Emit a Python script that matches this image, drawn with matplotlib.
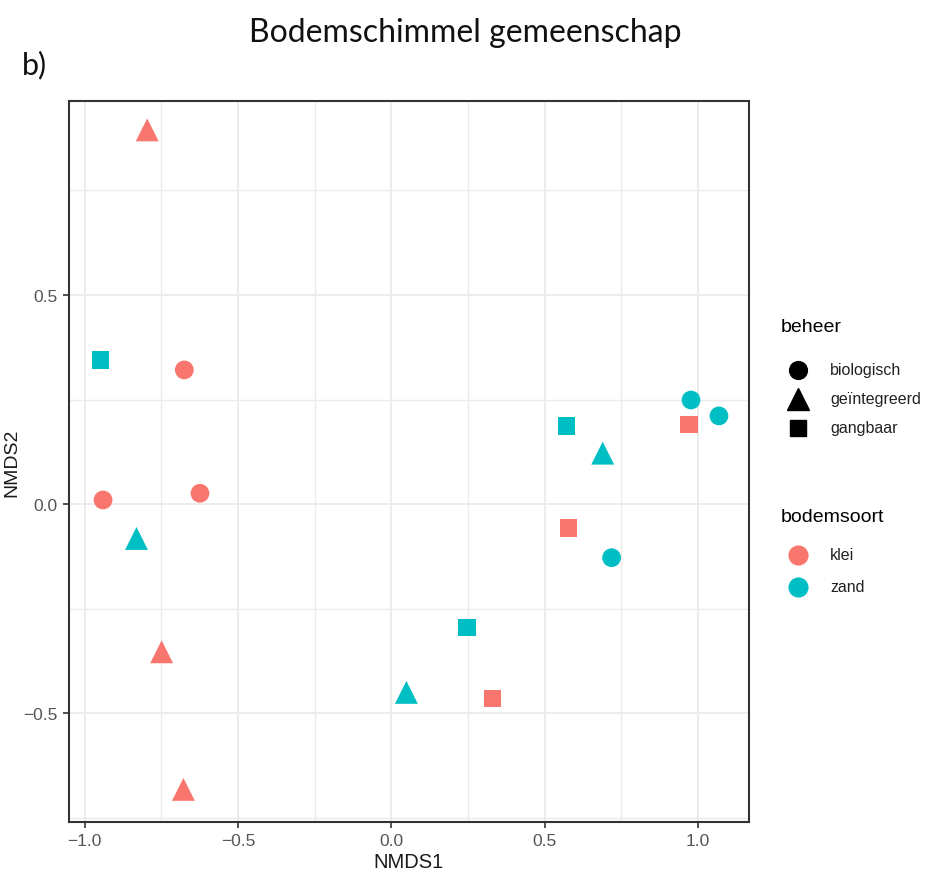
import matplotlib.pyplot as plt
from matplotlib.lines import Line2D
import numpy as np

# NMDS scores
nmds1 = [-0.796, -0.949, -0.675, -0.940, -0.624, -0.831, -0.749, -0.678, 0.049,
         0.247, 0.329, 0.577, 0.718, 0.572, 0.689, 0.970, 0.977, 1.068]
nmds2 = [0.895, 0.345, 0.321, 0.010, 0.026, -0.082, -0.353, -0.682, -0.450,
         -0.295, -0.464, -0.057, -0.128, 0.187, 0.122, 0.191, 0.249, 0.211]
beheer = ["geïntegreerd", "gangbaar", "biologisch", "biologisch", "biologisch", "geïntegreerd",
          "geïntegreerd", "geïntegreerd", "geïntegreerd", "gangbaar", "gangbaar", "gangbaar",
          "biologisch", "gangbaar", "geïntegreerd", "gangbaar", "biologisch", "biologisch"]
bodemsoort = ["klei", "zand", "klei", "klei", "klei", "zand", "klei", "klei", "zand",
              "zand", "klei", "klei", "zand", "zand", "zand", "klei", "zand", "zand"]

beheer_levels = ["biologisch", "geïntegreerd", "gangbaar"]
bodem_levels = ["klei", "zand"]
shapes = {"biologisch": "o", "geïntegreerd": "^", "gangbaar": "s"}
sizes = {"biologisch": 13.5, "geïntegreerd": 16.5, "gangbaar": 12.5}  # marker size in pt
colors = {"klei": "#F8766D", "zand": "#00BFC4"}

W, H = 929, 878
fig = plt.figure(figsize=(W / 100, H / 100), dpi=100)
plt.rcParams['font.family'] = ['Liberation Sans', 'DejaVu Sans']

ax = fig.add_axes([69 / W, 1 - 823 / H, (749 - 69) / W, (823 - 102) / H])

x = np.array(nmds1)
y = np.array(nmds2)
for b in beheer_levels:
    for s in bodem_levels:
        idx = [i for i in range(len(x)) if beheer[i] == b and bodemsoort[i] == s]
        if not idx:
            continue
        ax.scatter(x[idx], y[idx], marker=shapes[b], s=sizes[b] ** 2,
                   color=colors[s], edgecolors='none', zorder=3)

ax.set_xlim(-1.051, 1.166)
ax.set_ylim(-0.76, 0.964)
ax.set_xticks([-1.0, -0.5, 0.0, 0.5, 1.0])
ax.set_yticks([-0.5, 0.0, 0.5])
ax.set_xticks(np.arange(-1.0, 1.2, 0.25), minor=True)
ax.set_yticks(np.arange(-0.75, 1.0, 0.25), minor=True)
ax.grid(True, which='major', color='#EBEBEB', lw=1.3, zorder=0)
ax.grid(True, which='minor', color='#EBEBEB', lw=1.0, zorder=0)
ax.tick_params(which='minor', length=0)
ax.tick_params(which='major', length=4, width=1.2, color='#333333',
               labelsize=12.5, labelcolor='#555555', pad=4)
for sp in ax.spines.values():
    sp.set_color('#333333')
    sp.set_linewidth(1.5)
ax.set_axisbelow(True)
ax.set_xlabel("NMDS1", fontsize=14.5, labelpad=3, color='#1a1a1a')
ax.set_ylabel("NMDS2", fontsize=14, labelpad=2, color='#1a1a1a')

fig.text(465 / W, 1 - 33 / H, "Bodemschimmel gemeenschap", ha='center', va='center',
         fontsize=23, family=['Lato', 'DejaVu Sans'], color='#111111')
fig.text(22 / W, 1 - 65 / H, "b)", ha='left', va='center',
         fontsize=22, family=['Lato', 'DejaVu Sans'], color='#111111')


# legends, placed by hand in pixel coordinates
def legend_entry(px, py, marker, color, size, label):
    fig.add_artist(Line2D([px / W], [1 - py / H], marker=marker, color=color,
                          markersize=size, linestyle='none', transform=fig.transFigure))
    fig.text(830 / W, 1 - py / H, label, ha='left', va='center', fontsize=11.5, color='#222222')


fig.text(781 / W, 1 - 327 / H, "beheer", ha='left', va='center', fontsize=14)
legend_y = [371, 400, 429]
for b, py in zip(beheer_levels, legend_y):
    legend_entry(798, py, shapes[b], 'black', sizes[b] * 0.95, b)

fig.text(781 / W, 1 - 517 / H, "bodemsoort", ha='left', va='center', fontsize=14)
for s, py in zip(bodem_levels, [556, 588]):
    legend_entry(798, py, 'o', colors[s], 13.5, s)

fig.savefig("out.png", dpi=100)
